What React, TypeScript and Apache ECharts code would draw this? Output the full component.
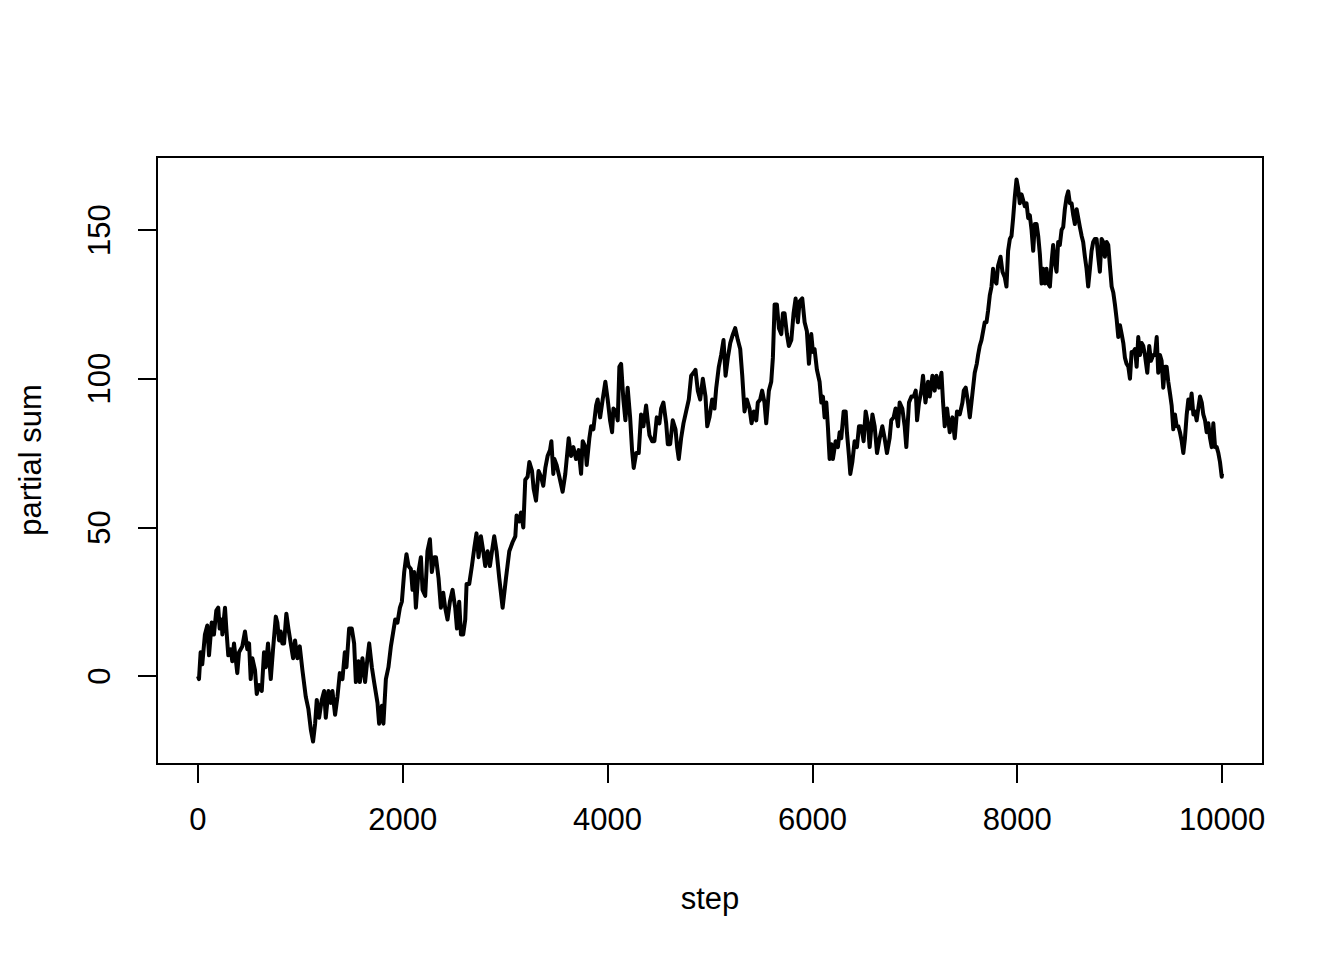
import React, { useEffect, useRef } from "react";
import * as echarts from "echarts";

const xTicks = [0, 2000, 4000, 6000, 8000, 10000];
const yTicks = [0, 50, 100, 150];
const xTitle = "step";
const yTitle = "partial sum";

// [step, partial sum]
const walk: [number, number][] = [
  [0,0],[10,-1],[26,8],[42,4],[68,14],[91,17],[108,7],[134,18],[156,14],[179,22],[198,23],[212,16],[232,19],[238,14],[264,23],[277,16],[296,7],[320,9],[335,5],[352,11],[384,1],[401,8],[433,10],[459,15],[482,9],[499,11],[515,-1],[531,6],[557,2],[574,-6],[596,-3],[623,-5],[645,8],[662,3],[684,11],[711,-1],[733,9],[760,20],[775,18],[792,12],[808,15],[824,11],[841,11],[863,21],[883,16],[906,11],[929,6],[948,12],[971,6],[994,10],[1020,2],[1053,-7],[1078,-11],[1102,-18],[1124,-22],[1144,-16],[1160,-8],[1183,-14],[1209,-8],[1232,-5],[1248,-14],[1274,-5],[1297,-9],[1313,-5],[1339,-13],[1362,-7],[1385,1],[1411,-1],[1434,8],[1450,3],[1476,16],[1502,16],[1525,11],[1542,-2],[1567,5],[1581,-2],[1606,6],[1632,-2],[1655,6],[1672,11],[1698,3],[1720,-2],[1753,-9],[1769,-16],[1796,-10],[1811,-16],[1835,-1],[1860,3],
  [1884,10],[1926,19],[1948,18],[1972,23],[1991,25],[2014,35],[2036,41],[2056,37],[2079,36],[2095,29],[2111,35],[2128,23],[2153,35],[2177,40],[2193,29],[2219,27],[2241,42],[2265,46],[2284,35],[2307,40],[2324,40],[2349,33],[2372,23],[2395,28],[2414,23],[2437,19],[2460,25],[2486,29],[2512,23],[2529,16],[2551,25],[2568,14],[2590,14],[2610,19],[2623,31],[2649,31],[2675,37],[2698,43],[2720,48],[2740,40],[2763,47],[2786,42],[2805,37],[2828,42],[2851,37],[2871,42],[2893,47],[2916,42],[2942,33],[2975,23],[3008,33],[3040,42],[3072,45],[3099,47],[3111,54],[3138,52],[3154,55],[3177,50],[3196,66],[3219,67],[3236,72],[3262,69],[3278,63],[3301,59],[3326,69],[3350,67],[3372,64],[3392,70],[3414,74],[3438,76],[3451,79],[3470,68],[3480,73],[3502,71],[3529,67],[3561,62],[3587,68],[3620,80],[3643,74],[3666,77],[3692,73],[3718,76],[3741,68],[3757,79],[3783,77],[3796,71],[3822,80],[3839,84],[3861,83],[3888,91],[3903,93],[3927,87],[3952,93],[3978,99],[4001,93],[4024,86],[4044,82],[4057,90],[4083,89],[4099,86],[4115,104],[4132,105],[4154,93],[4174,86],[4196,97],[4220,87],[4239,76],[4255,70],[4279,75],[4304,75],[4327,88],[4350,84],[4376,91],[4392,86],[4409,81],[4435,79],[4457,79],[4480,87],[4506,85],[4523,90],[4545,92],[4572,85],[4588,78],[4611,78],[4636,86],[4663,83],[4679,77],[4695,73],[4718,80],[4741,85],[4767,89],[4793,93],[4816,101],[4839,102],[4858,103],[4881,96],[4904,93],[4930,100],[4956,94],[4973,84],[4995,87],[5021,93],[5044,90],[5061,97],[5086,104],[5109,108],[5132,113],[5152,101],[5174,107],[5198,112],[5224,115],[5246,117],[5272,113],[5295,110],[5315,101],[5337,89],[5360,93],[5386,90],[5406,85],[5428,89],[5452,86],[5467,92],[5490,93],[5509,96],[5532,92],[5549,85],[5575,96],[5598,99],[5614,107],[5631,125],[5653,125],[5673,117],[5696,115],[5712,122],[5728,122],[5751,115],[5770,111],[5794,113],[5816,122],[5836,127],[5858,119],[5875,126],[5901,127],[5924,119],[5946,116],[5966,105],[5989,115],[6005,109],[6021,110],[6044,103],[6070,99],[6087,92],[6103,94],[6119,87],[6136,92],[6151,84],[6168,73],[6185,78],[6200,73],[6227,79],[6249,77],[6266,82],[6282,80],[6305,89],[6325,89],[6337,82],[6357,74],[6370,68],[6390,72],[6412,79],[6435,77],[6455,84],[6478,84],[6500,79],[6520,89],[6542,85],[6559,77],[6586,88],[6608,84],[6631,75],[6657,80],[6683,84],[6705,80],[6728,75],[6754,80],[6770,86],[6793,87],[6812,90],[6836,84],[6852,92],[6878,90],[6901,84],[6917,77],[6943,92],[6967,94],[6989,94],[7009,96],[7022,86],[7041,92],[7064,96],[7080,101],[7104,92],[7129,99],[7146,94],[7172,101],[7194,96],[7211,101],[7236,97],[7260,102],[7276,92],[7292,84],[7315,90],[7341,82],[7367,87],[7390,80],[7412,89],[7439,88],[7465,92],[7478,96],[7497,97],[7520,92],[7537,87],[7553,92],[7569,97],[7585,102],[7605,105],[7618,108],[7634,111],[7651,113],[7667,116],[7683,119],[7700,119],[7716,123],[7732,128],[7749,131],[7764,137],[7781,133],[7797,132],[7813,138],[7837,141],[7856,136],[7879,134],[7895,131],[7911,143],[7928,147],[7944,148],[7960,154],[7976,161],[7993,167],[8009,164],[8025,159],[8042,162],[8058,160],[8074,158],[8091,159],[8107,154],[8123,155],[8140,150],[8156,143],[8172,152],[8189,152],[8205,148],[8221,142],[8238,132],[8253,137],[8270,132],[8286,137],[8302,132],[8319,131],[8335,139],[8351,145],[8368,139],[8384,136],[8400,146],[8416,145],[8433,150],[8449,151],[8465,157],[8482,161],[8498,163],[8514,159],[8531,159],[8547,155],[8563,152],[8580,157],[8596,154],[8612,151],[8629,148],[8644,146],[8661,141],[8677,137],[8693,131],[8710,137],[8726,143],[8742,146],[8758,147],[8775,147],[8791,141],[8807,136],[8824,147],[8840,146],[8856,141],[8873,146],[8889,145],[8905,138],[8922,131],[8938,129],[8954,125],[8971,120],[8987,114],[9003,118],[9020,115],[9036,112],[9052,107],[9068,105],[9085,104],[9101,100],[9117,109],[9133,109],[9150,110],[9166,104],[9182,114],[9199,108],[9215,112],[9231,111],[9247,108],[9270,102],[9289,111],[9306,106],[9328,108],[9345,108],[9362,114],[9377,102],[9394,108],[9410,106],[9426,97],[9443,104],[9459,104],[9475,99],[9492,95],[9508,91],[9524,83],[9540,88],[9557,84],[9573,84],[9589,82],[9606,79],[9622,75],[9638,80],[9655,88],[9671,93],[9687,90],[9703,95],[9720,88],[9736,89],[9752,86],[9768,90],[9785,94],[9802,92],[9817,88],[9834,86],[9850,82],[9866,85],[9883,80],[9899,77],[9915,85],[9932,77],[9948,77],[9964,75],[9980,72],[9997,67],[10000,68]
];

const FONT = '"Liberation Sans", Arial, Helvetica, sans-serif';
const FS = 31;

export default function App() {
  const ref = useRef<HTMLDivElement>(null);
  useEffect(() => {
    if (!ref.current) return;
    const chart = echarts.init(ref.current, null, { renderer: "svg" });
    chart.setOption({
      animation: false,
      backgroundColor: "#ffffff",
      grid: {
        left: 157, top: 157, width: 1106, height: 607,
        show: true, borderColor: "#000", borderWidth: 2, backgroundColor: "transparent",
      },
      xAxis: {
        type: "value", min: -400, max: 10400,
        axisLine: { show: false, onZero: false },
        splitLine: { show: false },
        axisTick: { show: true, length: 19, lineStyle: { color: "#000", width: 2 }, customValues: xTicks },
        axisLabel: {
          customValues: xTicks, color: "#000", fontSize: FS, fontFamily: FONT, margin: 40,
          formatter: (v: number) => String(v),
        },
      },
      yAxis: {
        type: "value", min: -29.56, max: 174.56,
        axisLine: { show: false, onZero: false },
        splitLine: { show: false },
        axisTick: { show: true, length: 19, lineStyle: { color: "#000", width: 2 }, customValues: yTicks },
        axisLabel: {
          customValues: yTicks, color: "#000", fontSize: FS, fontFamily: FONT, margin: 42, rotate: 90,
          formatter: (v: number) => String(v),
        },
      },
      series: [
        {
          type: "line",
          data: walk,
          showSymbol: false,
          symbol: "none",
          lineStyle: { color: "#000", width: 4, join: "round" },
          clip: false,
        },
      ],
      graphic: [
        {
          type: "text", x: 710, y: 898,
          style: { text: xTitle, fill: "#000", fontSize: FS, fontFamily: FONT, align: "center", verticalAlign: "middle", textAlign: "center", textVerticalAlign: "middle" },
        },
        {
          type: "text", x: 30, y: 460, rotation: Math.PI / 2,
          style: { text: yTitle, fill: "#000", fontSize: FS, fontFamily: FONT, align: "center", verticalAlign: "middle", textAlign: "center", textVerticalAlign: "middle" },
        },
      ],
    });
    return () => chart.dispose();
  }, []);
  return <div ref={ref} style={{ position: "absolute", left: 0, top: 0, width: 1344, height: 960 }} />;
}
